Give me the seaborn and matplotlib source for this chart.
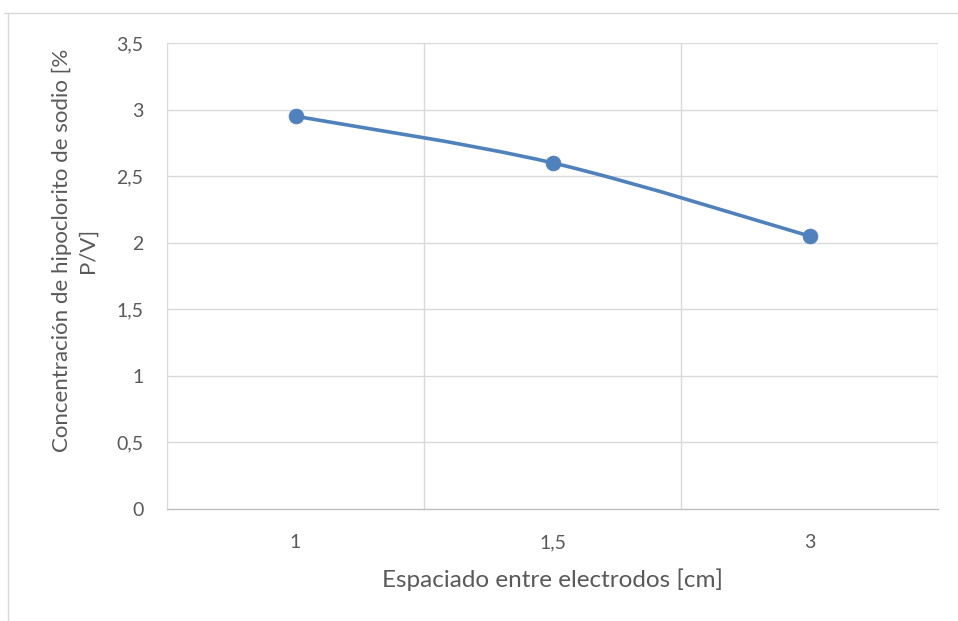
import matplotlib
matplotlib.use("Agg")
import matplotlib.pyplot as plt
from matplotlib.path import Path
from matplotlib.patches import PathPatch
from matplotlib.ticker import FuncFormatter, FixedLocator
from matplotlib.lines import Line2D
import seaborn as sns
import pandas as pd

# Data
espaciado = ["1", "1,5", "3"]
concentracion = [2.95, 2.60, 2.05]
y_ticks = [0, 0.5, 1, 1.5, 2, 2.5, 3, 3.5]

sns.set_theme(style="white")
plt.rcParams["font.family"] = ["Lato", "DejaVu Sans"]

text_color = "#595959"
grid_color = "#d9d9d9"
line_color = "#4f81bd"

fig = plt.figure(figsize=(9.58, 6.21), dpi=100)
W, H = 958, 621
ax = fig.add_axes([167 / W, 1 - 509 / H, (938 - 167) / W, (509 - 43) / H])

df = pd.DataFrame({"x": espaciado, "y": concentracion})
xpos = list(range(len(espaciado)))

# Smoothed connecting line (Catmull-Rom segments as cubic Bezier curves)
pts = list(zip(xpos, concentracion))
verts = [pts[0]]
codes = [Path.MOVETO]
n = len(pts)
for i in range(n - 1):
    p0 = pts[i - 1] if i > 0 else pts[i]
    p1 = pts[i]
    p2 = pts[i + 1]
    p3 = pts[i + 2] if i + 2 < n else pts[i + 1]
    t = 1 / 6
    c1 = (p1[0] + (p2[0] - p0[0]) * t, p1[1] + (p2[1] - p0[1]) * t)
    c2 = (p2[0] - (p3[0] - p1[0]) * t, p2[1] - (p3[1] - p1[1]) * t)
    verts += [c1, c2, p2]
    codes += [Path.CURVE4] * 3
ax.add_patch(PathPatch(Path(verts, codes), fill=False, edgecolor=line_color,
                       lw=2.6, capstyle="round", joinstyle="round", zorder=3))

sns.scatterplot(data=df, x="x", y="y", ax=ax, color=line_color, s=115,
                edgecolor=line_color, linewidth=0.5, zorder=4, legend=False)

ax.set_xlim(-0.5, len(espaciado) - 0.5)
ax.set_ylim(0, 3.5)
ax.yaxis.set_major_locator(FixedLocator(y_ticks))
ax.yaxis.set_major_formatter(FuncFormatter(
    lambda v, _: ("%g" % v).replace(".", ",")))
ax.set_xticks(xpos)
ax.set_xticklabels(espaciado)

# Gridlines: horizontal at y ticks, vertical at category boundaries
for yv in y_ticks[1:]:
    ax.axhline(yv, color=grid_color, lw=1.0, zorder=1)
for xv in [-0.5 + k for k in range(len(espaciado) + 1)]:
    ax.axvline(xv, color=grid_color, lw=1.0, zorder=1)

for side in ["top", "right", "left"]:
    ax.spines[side].set_visible(False)
ax.spines["bottom"].set_color("#bfbfbf")
ax.spines["bottom"].set_linewidth(1.0)

ax.tick_params(axis="both", length=0, labelsize=14, colors=text_color)
ax.tick_params(axis="y", pad=17)
ax.tick_params(axis="x", pad=18)

ax.set_xlabel("Espaciado entre electrodos [cm]", fontsize=17.5,
              color=text_color)
ax.xaxis.label.set_va("center")
ax.xaxis.set_label_coords(0.5, -(580 - 509) / (509 - 43))
ax.set_ylabel("")
fig.text(75 / W, 1 - 250 / H, "Concentración de hipoclorito de sodio [%\nP/V]",
         rotation=90, ha="center", va="center", fontsize=16,
         color=text_color, multialignment="center", linespacing=1.35)

# Chart area frame
fig.add_artist(Line2D([4 / W, 1], [1 - 13 / H, 1 - 13 / H],
                      transform=fig.transFigure, color=grid_color, lw=1.0))
fig.add_artist(Line2D([8 / W, 8 / W], [1 - 13 / H, 0],
                      transform=fig.transFigure, color=grid_color, lw=1.0))

fig.savefig("out.png", dpi=100, facecolor="white")
